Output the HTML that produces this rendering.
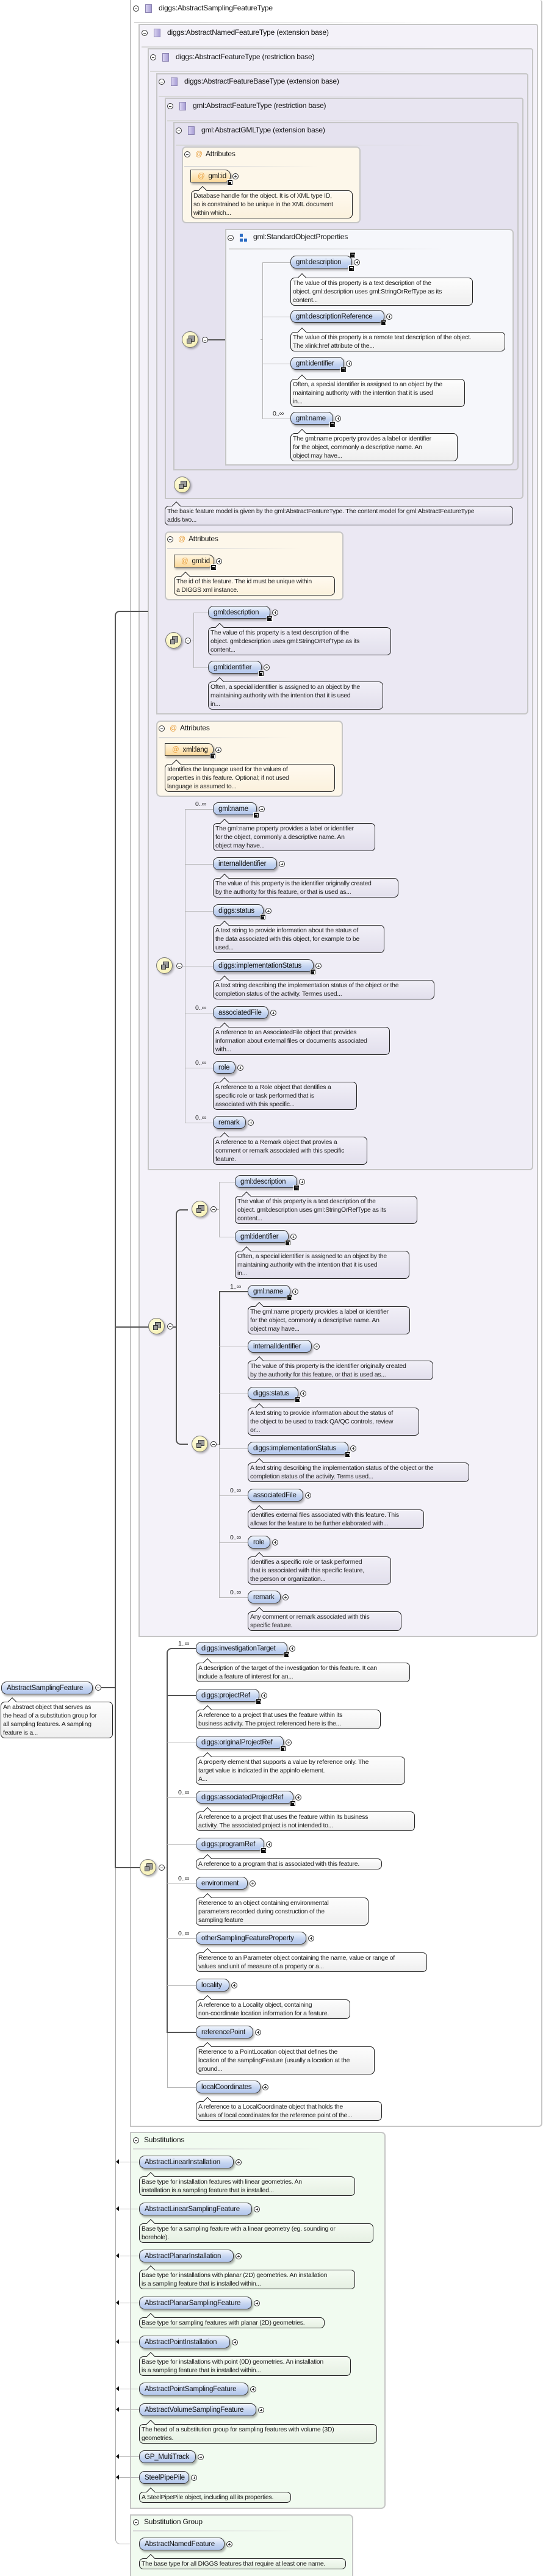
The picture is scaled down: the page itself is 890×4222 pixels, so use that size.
<!DOCTYPE html>
<html><head><meta charset="utf-8">
<style>
*{box-sizing:border-box;margin:0;padding:0}
html,body{width:890px;height:4222px;background:#fff;overflow:hidden;position:relative;font-family:"Liberation Sans",sans-serif}
.bx{position:absolute;border:2px solid #c6c6c6;border-radius:0 4px 6px 0}
.hd{position:absolute;font-size:12px;color:#111;white-space:nowrap;letter-spacing:-.2px}
.hl{position:absolute;height:2px;background:linear-gradient(90deg,#d8d8d8,rgba(216,216,216,0))}
.m{position:absolute;width:10px;height:10px;border:1px solid #333;border-radius:50%;background:#fff}
.m::after{content:"";position:absolute;left:2px;top:3.5px;width:4px;height:1px;background:#333}
.sq{position:absolute;width:11px;height:14px;border:1px solid #8a82b0;background:linear-gradient(90deg,#d8d2f0,#a99fd6)}
.n{position:absolute;height:21px;line-height:20px;padding:0 8px;border:1px solid #3a3a3a;border-radius:9px;background:linear-gradient(#f1f5fd,#c3d3f0 60%,#b2c6ec);font-size:11.5px;letter-spacing:-.2px;color:#111;white-space:nowrap;box-shadow:2px 3px 3px rgba(0,0,0,.3)}
.n i{position:absolute;right:-14px;top:5px;width:10px;height:10px;border:1px solid #333;border-radius:50%;background:#fff}
.n i::before{content:"";position:absolute;left:2px;top:3.5px;width:4px;height:1px;background:#333}
.n i::after{content:"";position:absolute;left:3.5px;top:2px;width:1px;height:4px;background:#333}
.n b{position:absolute;right:-5px;bottom:-6px;width:10px;height:10px;background:#111;border:1px solid #fff}
.n b::after{content:"";position:absolute;left:2px;top:2px;width:4px;height:4px;border-top:1px solid #fff;border-right:1px solid #fff}
.a{background:linear-gradient(#fff6e2,#fbd99a);border-radius:0 9px 9px 0}
.d{position:absolute;border:1px solid #222;border-radius:7px;font-size:10.5px;line-height:14px;letter-spacing:-.25px;padding:1px 3px;color:#222;white-space:nowrap;background:linear-gradient(#f1eff7,#e2dfec)}
.d::before{content:"";position:absolute;left:13px;top:-6px;width:9px;height:9px;border-left:1px solid #222;border-top:1px solid #222;transform:rotate(45deg);background:#f1eff7}
.w{background:linear-gradient(#fdfdfd,#efefef)}.w::before{background:#fdfdfd}
.o{background:linear-gradient(#fffaf0,#fbf1dd)}.o::before{background:#fffaf0}
.g{background:linear-gradient(#f4fbf2,#e6f0e3)}.g::before{background:#f4fbf2}
.s{position:absolute;width:27px;height:27px;border:1px solid #777;border-radius:50%;background:radial-gradient(circle at 40% 35%,#fffde0,#f4eda8);box-shadow:2px 2px 3px rgba(0,0,0,.3)}
.s::before{content:"";position:absolute;left:7px;top:11px;width:6px;height:6px;border:1px solid #333;background:#999;box-shadow:4px -4px 0 -0px #999,4px -4px 0 1px #333}
.l{position:absolute;background:#b4b4b4}
.t{position:absolute;background:#555}
.c{position:absolute;font-size:10.5px;color:#222;letter-spacing:-.3px}
.ar{position:absolute;width:0;height:0;border-top:4px solid transparent;border-bottom:4px solid transparent;border-right:5px solid #111}
</style></head><body>

<!-- nested boxes -->
<div class="bx" style="left:213px;top:0;width:676px;height:3486px;background:#fff;border-top:none"></div>
<div class="bx" style="left:227px;top:39px;width:655px;height:2644px;background:#f4f2f9"></div>
<div class="bx" style="left:242px;top:79px;width:632px;height:1839px;background:#efedf6"></div>
<div class="bx" style="left:256px;top:120px;width:610px;height:1051px;background:#ebe8f3"></div>
<div class="bx" style="left:270px;top:160px;width:588px;height:658px;background:#e8e5f1"></div>
<div class="bx" style="left:284px;top:200px;width:566px;height:571px;background:#e5e2ef"></div>

<!-- headers -->
<div class="m" style="left:218px;top:9px"></div><div class="sq" style="left:238px;top:7px"></div><div class="hd" style="left:260px;top:6px">diggs:AbstractSamplingFeatureType</div><div class="hl" style="left:220px;top:36px;width:500px"></div>
<div class="m" style="left:232px;top:49px"></div><div class="sq" style="left:252px;top:47px"></div><div class="hd" style="left:274px;top:46px">diggs:AbstractNamedFeatureType (extension base)</div><div class="hl" style="left:232px;top:76px;width:490px"></div>
<div class="m" style="left:246px;top:89px"></div><div class="sq" style="left:266px;top:87px"></div><div class="hd" style="left:288px;top:86px">diggs:AbstractFeatureType (restriction base)</div><div class="hl" style="left:246px;top:116px;width:470px"></div>
<div class="m" style="left:260px;top:129px"></div><div class="sq" style="left:280px;top:127px"></div><div class="hd" style="left:302px;top:126px">diggs:AbstractFeatureBaseType (extension base)</div><div class="hl" style="left:260px;top:157px;width:460px"></div>
<div class="m" style="left:274px;top:169px"></div><div class="sq" style="left:294px;top:167px"></div><div class="hd" style="left:316px;top:166px">gml:AbstractFeatureType (restriction base)</div><div class="hl" style="left:274px;top:197px;width:440px"></div>
<div class="m" style="left:288px;top:209px"></div><div class="sq" style="left:308px;top:207px"></div><div class="hd" style="left:330px;top:206px">gml:AbstractGMLType (extension base)</div><div class="hl" style="left:288px;top:237px;width:430px"></div>

<!-- B6 attributes -->
<div class="bx" style="left:298px;top:240px;width:293px;height:126px;background:#fdf7ea;border-radius:7px"></div>
<div class="m" style="left:302px;top:248px"></div><div class="hd" style="left:320px;top:245px;color:#e8a040">@</div><div class="hd" style="left:337px;top:245px">Attributes</div><div class="hl" style="left:302px;top:272px;width:220px"></div>
<div class="n a" style="left:312px;top:278px;width:66px">&nbsp;<span style="color:#e8a040">@</span>&nbsp; gml:id<i></i><b></b></div>
<div class="d o" style="left:313px;top:312px;width:265px">Database handle for the object. It is of XML type ID,<br>so is constrained to be unique in the XML document<br>within which...</div>

<!-- B6 sequences -->
<div class="s" style="left:298px;top:543px"></div><div class="m" style="left:331px;top:552px"></div>
<div class="t" style="left:341px;top:556px;width:44px;height:2px"></div>
<div class="s" style="left:384px;top:543px"></div><div class="m" style="left:417px;top:552px"></div>

<div class="bx" style="left:369px;top:375px;width:473px;height:388px;background:#f6f7fb;border-radius:0 7px 7px 0"></div>
<div class="m" style="left:373px;top:385px"></div>
<div style="position:absolute;left:393px;top:383px;width:5px;height:5px;background:#2b6cc4"></div><div style="position:absolute;left:393px;top:391px;width:5px;height:5px;background:#2b6cc4"></div><div style="position:absolute;left:400px;top:391px;width:5px;height:5px;background:#2b6cc4"></div>
<div class="hd" style="left:415px;top:381px">gml:StandardObjectProperties</div>
<div class="n" style="left:578px;top:396px;width:0;padding:0;border:none;background:none;box-shadow:none"><b></b></div>
<div class="hl" style="left:375px;top:407px;width:350px"></div>
<div class="l" style="left:430px;top:430px;width:1px;height:256px"></div>
<div class="l" style="left:427px;top:556px;width:4px;height:1px"></div>
<div class="l" style="left:430px;top:430px;width:46px;height:1px"></div>
<div class="l" style="left:430px;top:519px;width:46px;height:1px"></div>
<div class="l" style="left:430px;top:596px;width:46px;height:1px"></div>
<div class="l" style="left:430px;top:686px;width:46px;height:1px"></div>
<div class="n" style="left:476px;top:419px;width:101px">gml:description<i></i><b></b></div>
<div class="d w" style="left:476px;top:455px;width:299px">The value of this property is a text description of the<br>object. gml:description uses gml:StringOrRefType as its<br>content...</div>
<div class="n" style="left:476px;top:508px;width:154px">gml:descriptionReference<i></i><b></b></div>
<div class="d w" style="left:476px;top:544px;width:352px">The value of this property is a remote text description of the object.<br>The xlink:href attribute of the...</div>
<div class="n" style="left:476px;top:585px;width:88px">gml:identifier<i></i><b></b></div>
<div class="d w" style="left:476px;top:621px;width:286px">Often, a special identifier is assigned to an object by the<br>maintaining authority with the intention that it is used<br>in...</div>
<div class="c" style="left:447px;top:672px">0..∞</div>
<div class="n" style="left:476px;top:675px;width:70px">gml:name<i></i><b></b></div>
<div class="d w" style="left:476px;top:710px;width:274px">The gml:name property provides a label or identifier<br>for the object, commonly a descriptive name. An<br>object may have...</div>

<!-- B5 -->
<div class="s" style="left:285px;top:781px"></div>
<div class="d" style="left:270px;top:829px;width:571px">The basic feature model is given by the gml:AbstractFeatureType. The content model for gml:AbstractFeatureType<br>adds two...</div>

<!-- B4 attributes -->
<div class="bx" style="left:270px;top:871px;width:293px;height:113px;background:#fdf7ea;border-radius:7px"></div>
<div class="m" style="left:274px;top:879px"></div><div class="hd" style="left:292px;top:876px;color:#e8a040">@</div><div class="hd" style="left:309px;top:876px">Attributes</div><div class="hl" style="left:274px;top:898px;width:220px"></div>
<div class="n a" style="left:285px;top:909px;width:66px">&nbsp;<span style="color:#e8a040">@</span>&nbsp; gml:id<i></i><b></b></div>
<div class="d o" style="left:285px;top:944px;width:264px">The id of this feature. The id must be unique within<br>a DIGGS xml instance.</div>

<!-- B4 seq -->
<div class="s" style="left:271px;top:1036px"></div><div class="m" style="left:303px;top:1045px"></div>
<div class="l" style="left:313px;top:1050px;width:4px;height:1px"></div>
<div class="l" style="left:317px;top:1004px;width:1px;height:91px"></div>
<div class="l" style="left:317px;top:1004px;width:24px;height:1px"></div>
<div class="l" style="left:317px;top:1094px;width:24px;height:1px"></div>
<div class="n" style="left:341px;top:993px;width:102px">gml:description<i></i><b></b></div>
<div class="d" style="left:341px;top:1028px;width:300px">The value of this property is a text description of the<br>object. gml:description uses gml:StringOrRefType as its<br>content...</div>
<div class="n" style="left:341px;top:1083px;width:88px">gml:identifier<i></i><b></b></div>
<div class="d" style="left:341px;top:1117px;width:287px">Often, a special identifier is assigned to an object by the<br>maintaining authority with the intention that it is used<br>in...</div>

<!-- B3 attributes -->
<div class="bx" style="left:256px;top:1181px;width:306px;height:125px;background:#fdf7ea;border-radius:7px"></div>
<div class="m" style="left:260px;top:1189px"></div><div class="hd" style="left:278px;top:1186px;color:#e8a040">@</div><div class="hd" style="left:295px;top:1186px">Attributes</div><div class="hl" style="left:260px;top:1208px;width:220px"></div>
<div class="n a" style="left:270px;top:1218px;width:80px">&nbsp;<span style="color:#e8a040">@</span>&nbsp; xml:lang<i></i><b></b></div>
<div class="d o" style="left:270px;top:1252px;width:279px">Identifies the language used for the values of<br>properties in this feature. Optional; if not used<br>language is assumed to...</div>

<!-- B3 seq -->
<div class="s" style="left:256px;top:1569px"></div><div class="m" style="left:289px;top:1578px"></div>
<div class="l" style="left:299px;top:1583px;width:4px;height:1px"></div>
<div class="l" style="left:303px;top:1326px;width:1px;height:515px"></div>
<div class="l" style="left:303px;top:1326px;width:46px;height:1px"></div>
<div class="l" style="left:303px;top:1416px;width:46px;height:1px"></div>
<div class="l" style="left:303px;top:1493px;width:46px;height:1px"></div>
<div class="l" style="left:303px;top:1583px;width:46px;height:1px"></div>
<div class="l" style="left:303px;top:1660px;width:46px;height:1px"></div>
<div class="l" style="left:303px;top:1750px;width:46px;height:1px"></div>
<div class="l" style="left:303px;top:1840px;width:46px;height:1px"></div>
<div class="c" style="left:320px;top:1312px">0..∞</div>
<div class="n" style="left:349px;top:1315px;width:72px">gml:name<i></i><b></b></div>
<div class="d" style="left:349px;top:1349px;width:266px">The gml:name property provides a label or identifier<br>for the object, commonly a descriptive name. An<br>object may have...</div>
<div class="n" style="left:349px;top:1405px;width:105px">internalIdentifier<i></i></div>
<div class="d" style="left:349px;top:1439px;width:304px">The value of this property is the identifier originally created<br>by the authority for this feature, or that is used as...</div>
<div class="n" style="left:349px;top:1482px;width:83px">diggs:status<i></i><b></b></div>
<div class="d" style="left:349px;top:1516px;width:281px">A text string to provide information about the status of<br>the data associated with this object, for example to be<br>used...</div>
<div class="n" style="left:349px;top:1572px;width:165px">diggs:implementationStatus<i></i><b></b></div>
<div class="d" style="left:349px;top:1606px;width:363px">A text string describing the implementation status of the object or the<br>completion status of the activity. Termes used...</div>
<div class="c" style="left:320px;top:1646px">0..∞</div>
<div class="n" style="left:349px;top:1649px;width:91px">associatedFile<i></i></div>
<div class="d" style="left:349px;top:1683px;width:290px">A reference to an AssociatedFile object that provides<br>information about external files or documents associated<br>with...</div>
<div class="c" style="left:320px;top:1736px">0..∞</div>
<div class="n" style="left:349px;top:1739px;width:37px">role<i></i></div>
<div class="d" style="left:349px;top:1773px;width:236px">A reference to a Role object that dentifies a<br>specific role or task performed that is<br>associated with this specific...</div>
<div class="c" style="left:320px;top:1826px">0..∞</div>
<div class="n" style="left:349px;top:1829px;width:54px">remark<i></i></div>
<div class="d" style="left:349px;top:1863px;width:253px">A reference to a Remark object that provies a<br>comment or remark associated with this specific<br>feature.</div>

<!-- B2 choice -->
<div class="t" style="left:190px;top:2174px;width:54px;height:2px"></div>
<div class="s" style="left:243px;top:2160px"></div><div class="m" style="left:274px;top:2169px"></div>
<div class="t" style="left:284px;top:2174px;width:5px;height:2px"></div>
<div style="position:absolute;left:288px;top:1982px;width:20px;height:386px;border:2px solid #555;border-right:none;border-radius:8px 0 0 8px"></div>
<div class="s" style="left:314px;top:1968px"></div><div class="m" style="left:345px;top:1977px"></div>
<div class="s" style="left:314px;top:2353px"></div><div class="m" style="left:345px;top:2362px"></div>
<div class="l" style="left:355px;top:1982px;width:4px;height:1px"></div>
<div class="l" style="left:359px;top:1937px;width:1px;height:91px"></div>
<div class="l" style="left:359px;top:1937px;width:26px;height:1px"></div>
<div class="l" style="left:359px;top:2027px;width:26px;height:1px"></div>
<div class="n" style="left:385px;top:1926px;width:102px">gml:description<i></i><b></b></div>
<div class="d" style="left:385px;top:1960px;width:299px">The value of this property is a text description of the<br>object. gml:description uses gml:StringOrRefType as its<br>content...</div>
<div class="n" style="left:385px;top:2016px;width:88px">gml:identifier<i></i><b></b></div>
<div class="d" style="left:385px;top:2050px;width:286px">Often, a special identifier is assigned to an object by the<br>maintaining authority with the intention that it is used<br>in...</div>

<div class="l" style="left:355px;top:2367px;width:4px;height:1px"></div>
<div class="t" style="left:359px;top:2117px;width:2px;height:251px"></div>
<div class="l" style="left:359px;top:2368px;width:1px;height:251px"></div>
<div class="t" style="left:359px;top:2116px;width:47px;height:2px"></div>
<div class="l" style="left:359px;top:2207px;width:47px;height:1px"></div>
<div class="l" style="left:359px;top:2284px;width:47px;height:1px"></div>
<div class="l" style="left:359px;top:2374px;width:47px;height:1px"></div>
<div class="l" style="left:359px;top:2451px;width:47px;height:1px"></div>
<div class="l" style="left:359px;top:2528px;width:47px;height:1px"></div>
<div class="l" style="left:359px;top:2618px;width:47px;height:1px"></div>
<div class="c" style="left:377px;top:2103px">1..∞</div>
<div class="n" style="left:406px;top:2106px;width:70px">gml:name<i></i><b></b></div>
<div class="d" style="left:406px;top:2141px;width:266px">The gml:name property provides a label or identifier<br>for the object, commonly a descriptive name. An<br>object may have...</div>
<div class="n" style="left:406px;top:2196px;width:105px">internalIdentifier<i></i></div>
<div class="d" style="left:406px;top:2230px;width:304px">The value of this property is the identifier originally created<br>by the authority for this feature, or that is used as...</div>
<div class="n" style="left:406px;top:2273px;width:83px">diggs:status<i></i><b></b></div>
<div class="d" style="left:406px;top:2307px;width:281px">A text string to provide information about the status of<br>the object to be used to track QA/QC controls, review<br>or...</div>
<div class="n" style="left:406px;top:2363px;width:165px">diggs:implementationStatus<i></i><b></b></div>
<div class="d" style="left:406px;top:2397px;width:363px">A text string describing the implementation status of the object or the<br>completion status of the activity. Terms used...</div>
<div class="c" style="left:377px;top:2437px">0..∞</div>
<div class="n" style="left:406px;top:2440px;width:91px">associatedFile<i></i></div>
<div class="d" style="left:406px;top:2474px;width:289px">Identifies external files associated with this feature. This<br>allows for the feature to be further elaborated with...</div>
<div class="c" style="left:377px;top:2514px">0..∞</div>
<div class="n" style="left:406px;top:2517px;width:37px">role<i></i></div>
<div class="d" style="left:406px;top:2551px;width:235px">Identifies a specific role or task performed<br>that is associated with this specific feature,<br>the person or organization...</div>
<div class="c" style="left:377px;top:2604px">0..∞</div>
<div class="n" style="left:406px;top:2607px;width:54px">remark<i></i></div>
<div class="d" style="left:406px;top:2641px;width:252px">Any comment or remark associated with this<br>specific feature.</div>

<!-- B1 seq -->
<div class="t" style="left:190px;top:3060px;width:40px;height:2px"></div>
<div class="s" style="left:229px;top:3047px"></div><div class="m" style="left:260px;top:3056px"></div>
<div class="l" style="left:270px;top:3061px;width:4px;height:1px"></div>
<div style="position:absolute;left:273px;top:2701px;width:48px;height:631px;border:2px solid #555;border-right:none;border-bottom:none;border-radius:8px 0 0 0"></div>
<div class="t" style="left:273px;top:3330px;width:48px;height:2px"></div>
<div class="t" style="left:273px;top:2778px;width:48px;height:2px"></div>
<div class="l" style="left:274px;top:3332px;width:1px;height:89px"></div>
<div class="l" style="left:274px;top:3421px;width:47px;height:1px"></div>
<div class="l" style="left:274px;top:2856px;width:47px;height:1px"></div>
<div class="l" style="left:274px;top:2946px;width:47px;height:1px"></div>
<div class="l" style="left:274px;top:3023px;width:47px;height:1px"></div>
<div class="l" style="left:274px;top:3087px;width:47px;height:1px"></div>
<div class="l" style="left:274px;top:3177px;width:47px;height:1px"></div>
<div class="l" style="left:274px;top:3254px;width:47px;height:1px"></div>
<div class="c" style="left:292px;top:2688px">1..∞</div>
<div class="n" style="left:321px;top:2691px;width:150px">diggs:investigationTarget<i></i><b></b></div>
<div class="d w" style="left:321px;top:2725px;width:351px">A description of the target of the investigation for this feature. It can<br>include a feature of interest for an...</div>
<div class="n" style="left:321px;top:2768px;width:104px">diggs:projectRef<i></i><b></b></div>
<div class="d w" style="left:321px;top:2802px;width:303px">A reference to a project that uses the feature within its<br>business activity. The project referenced here is the...</div>
<div class="n" style="left:321px;top:2845px;width:144px">diggs:originalProjectRef<i></i><b></b></div>
<div class="d w" style="left:321px;top:2879px;width:343px">A property element that supports a value by reference only. The<br>target value is indicated in the appinfo element.<br>A...</div>
<div class="c" style="left:292px;top:2932px">0..∞</div>
<div class="n" style="left:321px;top:2935px;width:160px">diggs:associatedProjectRef<i></i><b></b></div>
<div class="d w" style="left:321px;top:2969px;width:359px">A reference to a project that uses the feature within its business<br>activity. The associated project is not intended to...</div>
<div class="n" style="left:321px;top:3012px;width:112px">diggs:programRef<i></i><b></b></div>
<div class="d w" style="left:321px;top:3046px;width:305px">A reference to a program that is associated with this feature.</div>
<div class="c" style="left:292px;top:3073px">0..∞</div>
<div class="n" style="left:321px;top:3076px;width:85px">environment<i></i></div>
<div class="d w" style="left:321px;top:3110px;width:283px">Reference to an object containing environmental<br>parameters recorded during construction of the<br>sampling feature</div>
<div class="c" style="left:292px;top:3163px">0..∞</div>
<div class="n" style="left:321px;top:3166px;width:181px">otherSamplingFeatureProperty<i></i></div>
<div class="d w" style="left:321px;top:3200px;width:379px">Reference to an Parameter object containing the name, value or range of<br>values and unit of measure of a property or a...</div>
<div class="n" style="left:321px;top:3243px;width:55px">locality<i></i></div>
<div class="d w" style="left:321px;top:3277px;width:253px">A reference to a Locality object, containing<br>non-coordinate location information for a feature.</div>
<div class="n" style="left:321px;top:3320px;width:94px">referencePoint<i></i></div>
<div class="d w" style="left:321px;top:3354px;width:293px">Reference to a PointLocation object that defines the<br>location of the samplingFeature (usually a location at the<br>ground...</div>
<div class="n" style="left:321px;top:3410px;width:106px">localCoordinates<i></i></div>
<div class="d w" style="left:321px;top:3444px;width:305px">A reference to a LocalCoordinate object that holds the<br>values of local coordinates for the reference point of the...</div>

<!-- main element -->
<div class="n" style="left:2px;top:2756px;width:150px">AbstractSamplingFeature</div>
<div class="m" style="left:156px;top:2761px"></div>
<div class="t" style="left:166px;top:2765px;width:24px;height:2px"></div>
<div class="d w" style="left:1px;top:2789px;width:184px">An abstract object that serves as<br>the head of a substitution group for<br>all sampling features. A sampling<br>feature is a...</div>
<div style="position:absolute;left:188px;top:1001px;width:55px;height:2061px;border-left:2px solid #555;border-top:2px solid #555;border-radius:8px 0 0 0"></div>
<div style="position:absolute;left:189px;top:3062px;width:40px;height:1108px;border-left:1px solid #aaa;border-bottom:1px solid #aaa;border-radius:0 0 0 8px"></div>

<!-- substitutions -->
<div class="bx" style="left:213px;top:3494px;width:419px;height:618px;background:#f1fbf0;border-radius:0 7px 7px 0"></div>
<div class="m" style="left:218px;top:3503px"></div><div class="hd" style="left:236px;top:3500px">Substitutions</div><div class="hl" style="left:218px;top:3521px;width:310px"></div>
<div class="l" style="left:190px;top:3543px;width:38px;height:1px"></div><div class="ar" style="left:190px;top:3539px"></div>
<div class="n" style="left:228px;top:3533px;width:155px">AbstractLinearInstallation<i></i></div>
<div class="d g" style="left:228px;top:3567px;width:354px">Base type for installation features with linear geometries. An<br>installation is a sampling feature that is installed...</div>
<div class="l" style="left:190px;top:3620px;width:38px;height:1px"></div><div class="ar" style="left:190px;top:3616px"></div>
<div class="n" style="left:228px;top:3610px;width:185px">AbstractLinearSamplingFeature<i></i></div>
<div class="d g" style="left:228px;top:3644px;width:384px">Base type for a sampling feature with a linear geometry (eg. sounding or<br>borehole).</div>
<div class="l" style="left:190px;top:3697px;width:38px;height:1px"></div><div class="ar" style="left:190px;top:3693px"></div>
<div class="n" style="left:228px;top:3687px;width:155px">AbstractPlanarInstallation<i></i></div>
<div class="d g" style="left:228px;top:3720px;width:354px">Base type for installations with planar (2D) geometries. An installation<br>is a sampling feature that is installed within...</div>
<div class="l" style="left:190px;top:3774px;width:38px;height:1px"></div><div class="ar" style="left:190px;top:3770px"></div>
<div class="n" style="left:228px;top:3764px;width:185px">AbstractPlanarSamplingFeature<i></i></div>
<div class="d g" style="left:228px;top:3798px;width:304px">Base type for sampling features with planar (2D) geometries.</div>
<div class="l" style="left:190px;top:3838px;width:38px;height:1px"></div><div class="ar" style="left:190px;top:3834px"></div>
<div class="n" style="left:228px;top:3828px;width:149px">AbstractPointInstallation<i></i></div>
<div class="d g" style="left:228px;top:3862px;width:347px">Base type for installations with point (0D) geometries. An installation<br>is a sampling feature that is installed within...</div>
<div class="l" style="left:190px;top:3915px;width:38px;height:1px"></div><div class="ar" style="left:190px;top:3911px"></div>
<div class="n" style="left:228px;top:3905px;width:179px">AbstractPointSamplingFeature<i></i></div>
<div class="l" style="left:190px;top:3949px;width:38px;height:1px"></div><div class="ar" style="left:190px;top:3945px"></div>
<div class="n" style="left:228px;top:3939px;width:192px">AbstractVolumeSamplingFeature<i></i></div>
<div class="d g" style="left:228px;top:3973px;width:390px">The head of a substitution group for sampling features with volume (3D)<br>geometries.</div>
<div class="l" style="left:190px;top:4026px;width:38px;height:1px"></div><div class="ar" style="left:190px;top:4022px"></div>
<div class="n" style="left:228px;top:4016px;width:93px">GP_MultiTrack<i></i></div>
<div class="l" style="left:190px;top:4060px;width:38px;height:1px"></div><div class="ar" style="left:190px;top:4056px"></div>
<div class="n" style="left:228px;top:4050px;width:82px">SteelPipePile<i></i></div>
<div class="d g" style="left:228px;top:4084px;width:249px">A SteelPipePile object, including all its properties.</div>

<!-- substitution group -->
<div class="bx" style="left:213px;top:4121px;width:366px;height:110px;background:#f1fbf0;border-radius:0 7px 0 0"></div>
<div class="m" style="left:218px;top:4129px"></div><div class="hd" style="left:236px;top:4126px">Substitution Group</div><div class="hl" style="left:218px;top:4147px;width:270px"></div>
<div class="n" style="left:228px;top:4159px;width:140px">AbstractNamedFeature<i></i></div>
<div class="d g" style="left:228px;top:4193px;width:339px">The base type for all DIGGS features that require at least one name.</div>

</body></html>
